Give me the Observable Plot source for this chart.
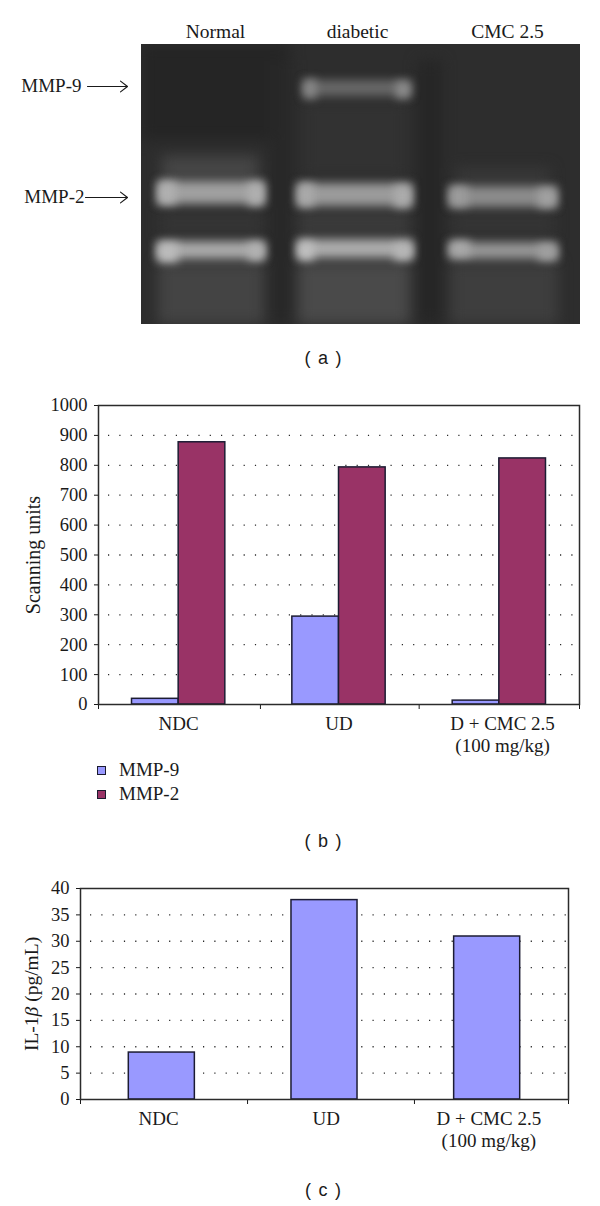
<!DOCTYPE html>
<html><head><meta charset="utf-8">
<script src="https://cdn.jsdelivr.net/npm/d3@7"></script>
<script src="https://cdn.jsdelivr.net/npm/@observablehq/plot@0.6"></script>
<style>
html,body{margin:0;padding:0;background:#fff}
#page{position:relative;width:600px;height:1206px;overflow:hidden;font-family:"Liberation Serif",serif;color:#1a1a1a}
#page>div{position:absolute}
#page svg{display:block}
.cap{font:18px "Liberation Sans",sans-serif;word-spacing:2.5px;white-space:pre;transform:translateX(-50%)}
.lg{display:flex;align-items:center;font-size:19px;height:24px}
.lg i{display:block;width:7px;height:7px;border:1.2px solid #1a1a2e;margin-right:13px}
</style></head><body>
<div id="page"></div>
<script>
// ---------- panel (a): gel ----------
const laneNames = ["Normal", "diabetic", "CMC 2.5"];
const laneCentres = [215, 357, 507];
const markerNames = ["MMP-9", "MMP-2"];
const markerRows = [86, 197];
const markerLabelEnds = [81, 84];
const arrowStarts = [87, 85];
const arrowEnd = 127;

// the gel plate and its soft patches, as [x1, x2, y1, y2, grey level]
const gelPlate = [[141, 580, 44, 324, 45]];
const gelSmears = [
  [141, 290, 44, 140, 37],
  [270, 292, 60, 324, 40],
  [418, 442, 60, 324, 38],
  [158, 264, 262, 324, 68],
  [298, 410, 262, 324, 74],
  [450, 558, 262, 324, 62],
  [162, 258, 156, 182, 70],
  [303, 407, 100, 178, 50],
  [456, 550, 168, 186, 56],
  [160, 262, 208, 238, 52],
  [298, 410, 208, 238, 58],
  [452, 554, 208, 238, 52]
];
// the bands
const gelBands = [
  [158, 264, 181, 204, 160],
  [157, 265, 241, 259, 170],
  [303, 411, 80, 96, 104],
  [297, 412, 183, 206, 155],
  [297, 413, 239, 258, 172],
  [449, 557, 186, 207, 140],
  [449, 557, 242, 259, 150]
];
// brighter ends of the bands
const gelBlobs = [
  [158, 176, 182, 204, 176],
  [248, 264, 183, 205, 176],
  [158, 178, 243, 262, 188],
  [248, 264, 243, 260, 178],
  [304, 316, 80, 98, 140],
  [396, 410, 82, 98, 142],
  [298, 314, 184, 206, 170],
  [394, 411, 186, 207, 172],
  [298, 314, 242, 260, 192],
  [394, 412, 244, 260, 184],
  [450, 468, 187, 206, 156],
  [538, 556, 189, 207, 162],
  [450, 470, 241, 256, 170],
  [538, 557, 245, 260, 160]
];
const gelRow = ([x1, x2, y1, y2, g]) => ({x1, x2, y1, y2, fill: `rgb(${g},${g},${g})`});
const gelMark = (list, filter) => Plot.rect(list.map(gelRow), {x1: "x1", x2: "x2", y1: "y1", y2: "y2", fill: "fill", clip: "frame", imageFilter: filter});

// ---------- panel (b) ----------
const groupsB = ["NDC", "UD", "D + CMC 2.5\n(100 mg/kg)"];
const groupLabelB = [0.5, 1.5, 2.52];
const seriesB = ["MMP-9", "MMP-2"];
const mmp9 = [19, 294, 13];
const mmp2 = [877, 793, 823];
const coloursB = ["#9999ff", "#993366"];
const yTicksB = [0, 100, 200, 300, 400, 500, 600, 700, 800, 900, 1000];
const xTicksB = [0, 1.01, 2, 3];
const barFractionB = 0.291;

// ---------- panel (c) ----------
const groupsC = ["NDC", "UD", "D + CMC 2.5\n(100 mg/kg)"];
const groupLabelC = [0.48, 1.51, 2.51];
const il1b = [8.9, 37.8, 30.9];
const yTicksC = [0, 5, 10, 15, 20, 25, 30, 35, 40];
const xTicksC = [0, 1.027, 2.053, 3];
const barFractionC = 0.406;

const ink = "#1a1a1a", frameInk = "#2b2b2b", barInk = "#1c1c33";
const serif = "'Liberation Serif', serif";
const page = document.getElementById("page");
function place(node, left, top) {
  const d = document.createElement("div");
  d.style.left = left + "px"; d.style.top = top + "px";
  d.append(node); page.append(d); return d;
}

// ---- (a)
const panelA = Plot.plot({
  width: 600, height: 340, marginLeft: 141, marginRight: 20, marginTop: 44, marginBottom: 16,
  x: {domain: [141, 580], axis: null},
  y: {domain: [44, 324], range: [44, 324], axis: null},
  style: {fontFamily: serif, background: "transparent"},
  marks: [
    gelMark(gelPlate),
    gelMark(gelSmears, "blur(7px)"),
    gelMark(gelBands, "blur(5px)"),
    gelMark(gelBlobs, "blur(5px)"),
    Plot.text(laneNames, {x: (d, i) => laneCentres[i], y: 31, text: d => d, fontSize: 19.5, fill: ink}),
    Plot.text(markerNames, {x: (d, i) => markerLabelEnds[i], y: (d, i) => markerRows[i] - 1, text: d => d, textAnchor: "end", fontSize: 19, fill: ink}),
    Plot.arrow(markerNames, {x1: (d, i) => arrowStarts[i], x2: arrowEnd, y1: (d, i) => markerRows[i], y2: (d, i) => markerRows[i], stroke: ink, strokeWidth: 1.2, headLength: 11, headAngle: 75})
  ]
});
place(panelA, 0, 0);

// ---- shared bar panel pieces
function axesFor(yTicks, xTicks, labelXs, groups, title, dxTitle, titleSize) {
  return [
    Plot.ruleY(yTicks.slice(1, -1), {stroke: "#2a2a2a", strokeWidth: 1.3, strokeDasharray: "1.2 10.1", strokeDashoffset: -10}),
    Plot.axisY({ticks: yTicks, tickSize: 4, tickPadding: 7, tickFormat: d3.format("d"), label: null, fontSize: 18.5, stroke: ink, fill: ink}),
    Plot.axisX({ticks: xTicks, tickSize: 5, tickFormat: () => "", label: null, stroke: ink}),
    Plot.text(groups, {x: (d, i) => labelXs[i], frameAnchor: "bottom", lineAnchor: "top", dy: 10, text: d => d, fontSize: 19, lineHeight: 1.15, fill: ink}),
    Plot.text([title], {frameAnchor: "left", textAnchor: "middle", rotate: -90, dx: dxTitle, text: d => d, fontSize: titleSize, fill: ink})
  ];
}

// ---- (b)
const rowsB = groupsB.flatMap((g, i) => [
  {group: g, series: seriesB[0], value: mmp9[i], x1: i + 0.5 - barFractionB, x2: i + 0.5},
  {group: g, series: seriesB[1], value: mmp2[i], x1: i + 0.5, x2: i + 0.5 + barFractionB}
]);
const panelB = Plot.plot({
  width: 600, height: 480, marginLeft: 98, marginRight: 21, marginTop: 25, marginBottom: 156,
  x: {domain: [0, 3], axis: null},
  y: {domain: [0, 1000], axis: null},
  color: {domain: seriesB, range: coloursB},
  style: {fontFamily: serif, background: "transparent"},
  marks: [
    ...axesFor(yTicksB, xTicksB, groupLabelB, groupsB, "Scanning units", -65, 20),
    Plot.rectY(rowsB, {x1: "x1", x2: "x2", y: "value", fill: "series", stroke: barInk, strokeWidth: 1.5}),
    Plot.frame({stroke: frameInk, strokeWidth: 1.5})
  ]
});
place(panelB, 0, 380);

// ---- (c)
const rowsC = groupsC.map((g, i) => ({group: g, value: il1b[i], x1: i + 0.5 - barFractionC / 2, x2: i + 0.5 + barFractionC / 2}));
const panelC = Plot.plot({
  width: 600, height: 346, marginLeft: 80, marginRight: 32, marginTop: 28, marginBottom: 107,
  x: {domain: [0, 3], axis: null},
  y: {domain: [0, 40], axis: null},
  style: {fontFamily: serif, background: "transparent"},
  marks: [
    ...axesFor(yTicksC, xTicksC, groupLabelC, groupsC, "IL-1β (pg/mL)", -49, 19.5),
    Plot.rectY(rowsC, {x1: "x1", x2: "x2", y: "value", fill: coloursB[0], stroke: barInk, strokeWidth: 1.5}),
    Plot.frame({stroke: frameInk, strokeWidth: 1.5})
  ]
});
place(panelC, 0, 860);
d3.select(panelC).selectAll("text").filter(function () { return this.textContent === "IL-1β (pg/mL)"; }).each(function () {
  const t = d3.select(this).text(null);
  t.append("tspan").text("IL-1");
  t.append("tspan").attr("font-style", "italic").text("β");
  t.append("tspan").text(" (pg/mL)");
});

// ---- legend and captions
const legend = document.createElement("div");
seriesB.forEach((s, i) => {
  const row = document.createElement("div"); row.className = "lg";
  const sw = document.createElement("i"); sw.style.background = coloursB[i];
  row.append(sw, s); legend.append(row);
});
place(legend, 97, 758);

const captions = [["( a )", 348], ["( b )", 831], ["( c )", 1180]];
captions.forEach(([txt, top]) => {
  const c = document.createElement("div"); c.className = "cap"; c.textContent = txt;
  place(c, 323, top);
});
</script>
</body></html>
